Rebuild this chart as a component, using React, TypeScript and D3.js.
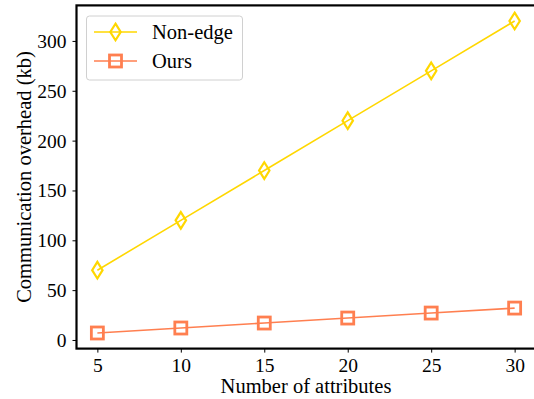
import React, { useRef, useEffect } from 'react';
import * as d3 from 'd3';

const attributes = [5, 10, 15, 20, 25, 30];
const nonEdge = [70, 120, 170, 220, 270, 320];
const ours = [7, 12, 17, 22, 27, 32];
const yTicks = [0, 50, 100, 150, 200, 250, 300];

const App: React.FC = () => {
  const svgRef = useRef<SVGSVGElement | null>(null);

  useEffect(() => {
    if (!svgRef.current) return;
    const width = 534;
    const height = 399;
    const font = "'Liberation Serif', 'Times New Roman', Times, serif";

    const svg = d3.select(svgRef.current);
    svg.selectAll('*').remove();

    const left = 76.5, right = 535.5, top = 5.4, bottom = 348.6;
    const x = d3.scaleLinear().domain([3.75, 31.25]).range([left, right]);
    const y = d3.scaleLinear().domain([-8.65, 335.65]).range([bottom, top]);

    // frame
    svg.append('rect')
      .attr('x', left).attr('y', top)
      .attr('width', right - left).attr('height', bottom - top)
      .attr('fill', 'none').attr('stroke', 'black').attr('stroke-width', 2.2);

    const xAxis = svg.append('g')
      .attr('transform', `translate(0,${bottom})`)
      .call(d3.axisBottom(x).tickValues(attributes).tickSize(4).tickSizeOuter(0));
    xAxis.select('.domain').remove();
    xAxis.selectAll('text')
      .style('font-family', font).style('font-size', '19.5px')
      .attr('y', 23.4).attr('dy', '0').attr('fill', 'black');

    const yAxis = svg.append('g')
      .attr('transform', `translate(${left},0)`)
      .call(d3.axisLeft(y).tickValues(yTicks).tickSize(4).tickSizeOuter(0));
    yAxis.select('.domain').remove();
    yAxis.selectAll('text')
      .style('font-family', font).style('font-size', '19.5px')
      .attr('x', -10).attr('dy', '0.33em').attr('fill', 'black');

    svg.append('text')
      .attr('x', (left + right) / 2).attr('y', 392.5)
      .attr('text-anchor', 'middle')
      .style('font-family', font).style('font-size', '20.5px')
      .text('Number of attributes');

    svg.append('text')
      .attr('transform', `translate(30.5,${(top + bottom) / 2}) rotate(-90)`)
      .attr('text-anchor', 'middle')
      .style('font-family', font).style('font-size', '20.5px')
      .text('Communication overhead (kb)');

    const line = d3.line<number>()
      .x((_, i) => x(attributes[i]))
      .y(d => y(d));

    const diamond = (g: d3.Selection<SVGGElement, unknown, null, undefined>, cx: number, cy: number, colour: string) => {
      g.append('path')
        .attr('d', `M${cx},${cy - 8.3}L${cx + 5.2},${cy}L${cx},${cy + 8.3}L${cx - 5.2},${cy}Z`)
        .attr('fill', 'none').attr('stroke', colour).attr('stroke-width', 2.2);
    };
    const square = (g: d3.Selection<SVGGElement, unknown, null, undefined>, cx: number, cy: number, colour: string) => {
      g.append('rect')
        .attr('x', cx - 6).attr('y', cy - 6).attr('width', 12).attr('height', 12)
        .attr('fill', 'none').attr('stroke', colour).attr('stroke-width', 2.8);
    };

    const plot = svg.append('g');
    const gold = '#FFD700';
    const coral = '#FF7F50';

    plot.append('path').datum(nonEdge).attr('d', line)
      .attr('fill', 'none').attr('stroke', gold).attr('stroke-width', 1.6);
    nonEdge.forEach((v, i) => diamond(plot, x(attributes[i]), y(v), gold));

    plot.append('path').datum(ours).attr('d', line)
      .attr('fill', 'none').attr('stroke', coral).attr('stroke-width', 1.6);
    ours.forEach((v, i) => square(plot, x(attributes[i]), y(v), coral));

    // legend
    const legend = svg.append('g');
    legend.append('rect')
      .attr('x', 86.5).attr('y', 16).attr('width', 156).attr('height', 64).attr('rx', 3)
      .attr('fill', 'white').attr('fill-opacity', 0.8)
      .attr('stroke', '#d0d0d0').attr('stroke-width', 1);
    const entries = [
      { name: 'Non-edge', colour: gold, mark: diamond, yPos: 32 },
      { name: 'Ours', colour: coral, mark: square, yPos: 61 },
    ];
    entries.forEach(e => {
      legend.append('line')
        .attr('x1', 94).attr('x2', 137).attr('y1', e.yPos).attr('y2', e.yPos)
        .attr('stroke', e.colour).attr('stroke-width', 1.6);
      e.mark(legend, 115.5, e.yPos, e.colour);
      legend.append('text')
        .attr('x', 152).attr('y', e.yPos).attr('dy', '0.33em')
        .style('font-family', font).style('font-size', '20.5px')
        .text(e.name);
    });

    svg.attr('width', width).attr('height', height);
  }, []);

  return (
    <svg ref={svgRef} width={534} height={399}
      style={{ position: 'absolute', left: 0, top: 0, background: 'white' }} />
  );
};

export default App;
